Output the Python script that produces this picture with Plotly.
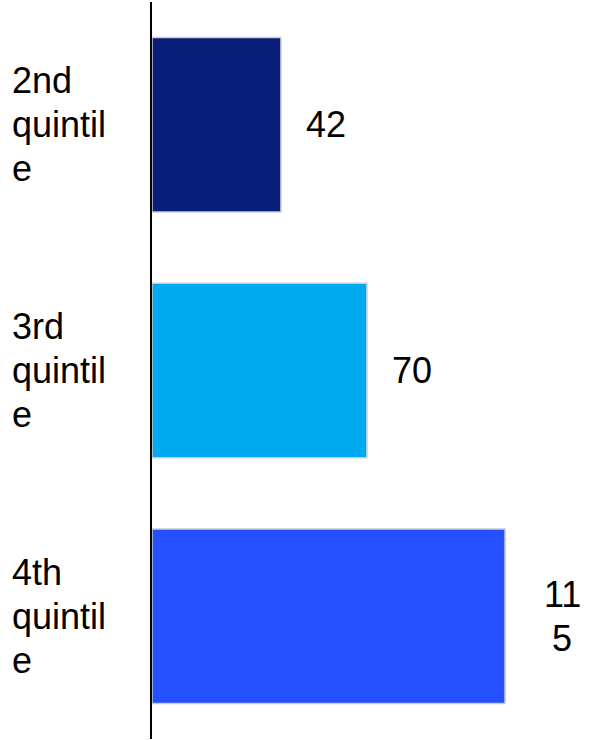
import plotly.graph_objects as go

categories = ["2nd quintile", "3rd quintile", "4th quintile"]
values = [42, 70, 115]
colors = ["#081E78", "#00AAF0", "#2450FF"]

W, H = 603, 740
ML, MR, MT, MB = 152, 0, 2, 1
PX_PER_UNIT = 3.07
FONT = dict(family="Liberation Sans, Arial, sans-serif", size=36, color="#000000")
LINE_H = 44


def wrap(text, width):
    lines = []
    for word in text.split(" "):
        while len(word) > width:
            lines.append(word[:width])
            word = word[width:]
        if word:
            lines.append(word)
    return lines


fig = go.Figure(
    go.Bar(
        y=categories,
        x=values,
        orientation="h",
        marker=dict(color=colors, line=dict(color="#C8CDD6", width=1.5)),
        hoverinfo="skip",
    )
)

annotations = []
plot_w = W - ML - MR
for cat in categories:
    lines = wrap(cat, 7)
    n = len(lines)
    for i, ln in enumerate(lines):
        annotations.append(dict(
            xref="paper", yref="y", x=(10 - ML) / plot_w, y=cat,
            xanchor="left", yanchor="middle", text=ln, showarrow=False,
            font=FONT, yshift=-(i - (n - 1) / 2) * LINE_H,
        ))

for cat, v in zip(categories, values):
    lines = wrap(str(v), 2)
    n = len(lines)
    xs = 45 if n == 1 else 57
    for i, ln in enumerate(lines):
        annotations.append(dict(
            xref="x", yref="y", x=v, y=cat,
            xanchor="center", yanchor="middle", text=ln, showarrow=False,
            font=FONT, xshift=xs, yshift=-(i - (n - 1) / 2) * LINE_H,
        ))

fig.update_layout(
    width=W, height=H,
    margin=dict(l=ML, r=MR, t=MT, b=MB),
    paper_bgcolor="white", plot_bgcolor="white",
    bargap=0.29,
    showlegend=False,
    annotations=annotations,
    xaxis=dict(range=[0, plot_w / PX_PER_UNIT], visible=False, fixedrange=True),
    yaxis=dict(autorange="reversed", showticklabels=False, ticks="",
               showgrid=False, zeroline=False, showline=True,
               linecolor="black", linewidth=2, fixedrange=True),
)

fig.write_html("out.html", config={"displayModeBar": False})
